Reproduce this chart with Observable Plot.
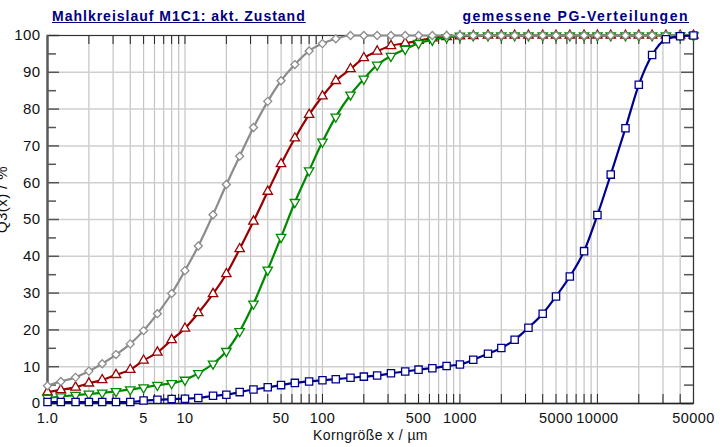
<!DOCTYPE html>
<html><head><meta charset="utf-8">
<script src="https://cdn.jsdelivr.net/npm/d3@7"></script>
<script src="https://cdn.jsdelivr.net/npm/@observablehq/plot@0.6"></script>
<style>
body{margin:0;background:#fff;}
#wrap{position:relative;width:728px;height:447px;font-family:"Liberation Sans",Arial,sans-serif;}
#wrap svg{position:absolute;left:0;top:0;}
.title{position:absolute;z-index:2;font-weight:bold;font-size:14px;color:#000080;text-decoration:underline;line-height:14px;letter-spacing:1px;white-space:nowrap;}
</style></head><body>
<div id="wrap">
<div class="title" style="left:52px;top:9px">Mahlkreislauf M1C1: akt. Zustand</div>
<div class="title" style="right:39px;top:9px;letter-spacing:1.5px">gemessene PG-Verteilungen</div>
</div>
<script>
// particle sizes x / µm
const sizes = [1, 1.25, 1.6, 2, 2.5, 3.15, 4, 5, 6.3, 8,
  10, 12.5, 16, 20, 25, 31.5, 40, 50, 63, 80,
  100, 125, 160, 200, 250, 315, 400, 500, 630, 800,
  1000, 1250, 1600, 2000, 2500, 3150, 4000, 5000, 6300, 8000,
  10000, 12500, 16000, 20000, 25000, 31500, 40000, 50000];

// Q3(x) / % for each measured distribution
const q3Gray = [4.8, 6.0, 7.1, 8.8, 10.8, 13.3, 16.2, 19.8, 24.4, 29.9,
  36.1, 42.8, 51.3, 59.5, 67.2, 75.0, 82.1, 87.7, 92.1, 95.8,
  97.8, 99.1, 100, 100, 100, 100, 100, 100, 100, 100,
  100, 100, 100, 100, 100, 100, 100, 100, 100, 100,
  100, 100, 100, 100, 100, 100, 100, 100];
const q3Red = [3.1, 3.7, 4.4, 5.5, 6.4, 7.8, 9.2, 11.7, 13.9, 17.3,
  20.4, 24.6, 29.8, 35.2, 42.0, 49.5, 57.6, 65.1, 72.1, 78.5,
  83.5, 87.7, 90.9, 93.9, 95.7, 97.2, 97.9, 98.6, 99.3, 99.6,
  99.8, 99.9, 100, 100, 100, 100, 100, 100, 100, 100,
  100, 100, 100, 100, 100, 100, 100, 100];
const q3Green = [1.5, 1.9, 2.3, 2.6, 2.9, 3.3, 3.8, 4.3, 5.0, 5.5,
  6.4, 8.2, 10.8, 14.2, 19.6, 27.1, 36.3, 45.2, 54.7, 63.3,
  71.1, 77.9, 83.9, 88.2, 92.0, 94.4, 96.3, 97.9, 98.8, 99.5,
  99.9, 100, 100, 100, 100, 100, 100, 100, 100, 100,
  100, 100, 100, 100, 100, 100, 100, 100];
const q3Navy = [0.4, 0.4, 0.4, 0.4, 0.4, 0.4, 0.4, 0.8, 1.0, 1.2,
  1.3, 1.5, 2.1, 2.4, 3.1, 3.8, 4.4, 5.0, 5.6, 6.0,
  6.3, 6.6, 7.0, 7.3, 7.6, 8.2, 8.7, 9.2, 9.6, 10.2,
  10.6, 11.9, 13.5, 15.1, 17.3, 20.6, 24.4, 29.1, 34.5, 41.4,
  51.2, 62.2, 74.8, 86.6, 94.7, 99.0, 99.8, 100];

// tick labels
const xTickLabels = [1, 5, 10, 50, 100, 500, 1000, 5000, 10000, 50000];
const yTickLabels = [0, 10, 20, 30, 40, 50, 60, 70, 80, 90, 100];
const yMinor = [5, 15, 25, 35, 45, 55, 65, 75, 85, 95];
const yGrid = [10, 20, 30, 40, 50, 60, 70, 80, 90];
const xGrid = [];
for (const p of [1, 10, 100, 1000, 10000]) for (let m = 1; m <= 9; m++) { if (m * p <= 50000) xGrid.push(m * p); }

const W = 728, H = 447, mL = 47, mR = 35, mT = 35, mB = 44;
const fw = W - mL - mR, fh = H - mT - mB;

const tbl = v => sizes.map((x, i) => ({x, y: v[i]}));
const series = [
  {data: tbl(q3Red), color: "#990000", symbol: "triangle", rotate: 0, r: 3.5},
  {data: tbl(q3Green), color: "#008a00", symbol: "triangle", rotate: 180, r: 3.5},
  {data: tbl(q3Gray), color: "#8c8c8c", symbol: "diamond2", rotate: 0, r: 3.6},
  {data: tbl(q3Navy), color: "#000090", symbol: "square", rotate: 0, r: 4.1}
];

const marks = [
  Plot.ruleX(xGrid, {stroke: "#c4c4c4", strokeWidth: 1.2}),
  Plot.ruleY(yGrid, {stroke: "#cfcfcf", strokeWidth: 1.5}),
  Plot.ruleX(xGrid, {stroke: "#222", strokeWidth: 1, insetTop: fh - 9}),
  Plot.ruleX(xGrid, {stroke: "#222", strokeWidth: 1, insetBottom: fh - 9}),
  Plot.ruleY(yTickLabels, {stroke: "#555", strokeWidth: 1.5, insetRight: fw - 12}),
  Plot.ruleY(yMinor, {stroke: "#555", strokeWidth: 1.5, insetRight: fw - 9}),
  Plot.ruleY(yTickLabels, {stroke: "#555", strokeWidth: 1.5, insetLeft: fw - 12}),
  Plot.ruleY(yMinor, {stroke: "#555", strokeWidth: 1.5, insetLeft: fw - 9}),
  Plot.frame({stroke: "#333", strokeWidth: 1.2}),
  Plot.ruleX([1], {stroke: "#5a5a5a", strokeWidth: 2.4}),
  Plot.ruleY([0], {stroke: "#222", strokeWidth: 1.6}),
  Plot.text(xTickLabels, {x: d => d, text: d => d === 1 ? "1.0" : String(d),
    frameAnchor: "bottom", lineAnchor: "top", textAnchor: "middle", dy: 9, fontSize: 14.5, fill: "#111"}),
  Plot.axisY(yTickLabels, {tickSize: 0, tickPadding: 7, fontSize: 15, label: null}),
];
for (const s of series) {
  marks.push(Plot.line(s.data, {x: "x", y: "y", stroke: s.color, strokeWidth: 2.2, curve: "monotone-x"}));
  marks.push(Plot.dot(s.data, {x: "x", y: "y", symbol: s.symbol, r: s.r, rotate: s.rotate,
    fill: "white", stroke: s.color, strokeWidth: 1.3}));
}
marks.push(Plot.text(["Korngröße x / µm"], {frameAnchor: "bottom", textAnchor: "middle", dy: 36, fontSize: 14, fill: "#111"}));
marks.push(Plot.text(["Q3(x) / %"], {frameAnchor: "left", textAnchor: "middle", rotate: -90, dx: -45, dy: -20, fontSize: 15, fill: "#111"}));

const chart = Plot.plot({
  width: W, height: H,
  marginLeft: mL, marginRight: mR, marginTop: mT, marginBottom: mB,
  style: {fontFamily: "Liberation Sans, Arial, sans-serif", fontSize: "15px", color: "#111", background: "white", letterSpacing: "0.4px"},
  x: {type: "log", domain: [1, 50000], axis: null},
  y: {domain: [0, 100]},
  marks
});
document.getElementById("wrap").appendChild(chart);
</script>
</body></html>
